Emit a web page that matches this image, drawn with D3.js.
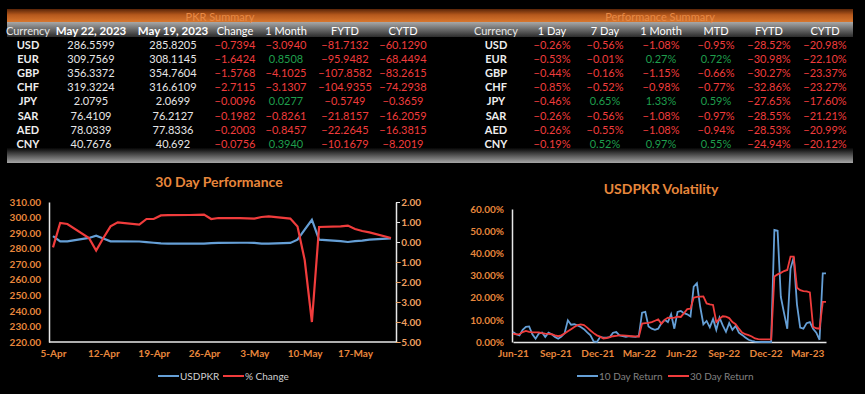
<!DOCTYPE html>
<html>
<head>
<meta charset="utf-8">
<script src="https://cdn.jsdelivr.net/npm/d3@7"></script>
<style>
  body { margin: 0; background: #000; }
  svg { display: block; font-family: Lato, "Open Sans", sans-serif; }
</style>
</head>
<body>
<div class="chart"></div>
<script>
// DATA ------------------------------------
const currencies = ["USD", "EUR", "GBP", "CHF", "JPY", "SAR", "AED", "CNY"];

// PKR summary
const pkrHeaders = ["Currency", "May 22, 2023", "May 19, 2023", "Change", "1 Month", "FYTD", "CYTD"];
const pkrToday = [286.5599, 309.7569, 356.3372, 319.3224, 2.0795, 76.4109, 78.0339, 40.7676];
const pkrPrev = [285.8205, 308.1145, 354.7604, 316.6109, 2.0699, 76.2127, 77.8336, 40.692];
const pkrChange = [-0.7394, -1.6424, -1.5768, -2.7115, -0.0096, -0.1982, -0.2003, -0.0756];
const pkrMonth = [-3.0940, 0.8508, -4.1025, -3.1307, 0.0277, -0.8261, -0.8457, 0.3940];
const pkrFytd = [-81.7132, -95.9482, -107.8582, -104.9355, -0.5749, -21.8157, -22.2645, -10.1679];
const pkrCytd = [-60.1290, -68.4494, -83.2615, -74.2938, -0.3659, -16.2059, -16.3815, -8.2019];

// performance summary (%)
const perfHeaders = ["Currency", "1 Day", "7 Day", "1 Month", "MTD", "FYTD", "CYTD"];
const perf1D = [-0.26, -0.53, -0.44, -0.85, -0.46, -0.26, -0.26, -0.19];
const perf7D = [-0.56, -0.01, -0.16, -0.52, 0.65, -0.56, -0.55, 0.52];
const perf1M = [-1.08, 0.27, -1.15, -0.98, 1.33, -1.08, -1.08, 0.97];
const perfMtd = [-0.95, 0.72, -0.66, -0.77, 0.59, -0.97, -0.94, 0.55];
const perfFytd = [-28.52, -30.98, -30.27, -32.86, -27.65, -28.55, -28.53, -24.94];
const perfCytd = [-20.98, -22.10, -23.37, -23.27, -17.60, -21.21, -20.99, -20.12];

// 30 day performance
const perfDates = ["2023-04-05", "2023-04-06", "2023-04-07", "2023-04-10", "2023-04-11", "2023-04-12",
  "2023-04-13", "2023-04-14", "2023-04-17", "2023-04-18", "2023-04-19", "2023-04-20", "2023-04-21",
  "2023-04-24", "2023-04-25", "2023-04-26", "2023-04-27", "2023-04-28", "2023-05-01", "2023-05-02",
  "2023-05-03", "2023-05-04", "2023-05-05", "2023-05-08", "2023-05-09", "2023-05-10", "2023-05-11",
  "2023-05-12", "2023-05-15", "2023-05-16", "2023-05-17", "2023-05-18", "2023-05-19", "2023-05-22"];
const usdpkr = [288.0, 284.7, 284.7, 286.9, 288.3, 286.5, 284.7, 284.7, 284.6, 284.2, 283.8, 283.4, 283.3,
  283.3, 283.3, 283.3, 283.6, 283.7, 283.8, 283.8, 283.7, 283.3, 283.3, 283.7, 285.8, 292.2, 298.6,
  285.8, 284.8, 284.3, 284.8, 285.2, 285.82, 286.56];
const pctChange = [-0.27, 0.95, 0.90, 0.20, -0.43, 0.20, 0.78, 0.98, 0.87, 1.15, 1.15, 1.33, 1.34,
  1.35, 1.36, 1.37, 1.15, 1.20, 1.19, 1.18, 1.17, 1.25, 1.28, 1.17, 0.78, -0.90, -4.00,
  0.75, 0.78, 0.82, 0.65, 0.55, 0.48, 0.20];
const perfTicks = ["2023-04-05", "2023-04-12", "2023-04-19", "2023-04-26", "2023-05-03", "2023-05-10", "2023-05-17"];

// USDPKR volatility, weekly from 1 Jun 2021 (%)
const volStart = "2021-06-01";
const vol10 = [4.5, 3.5, 3.0, 5.5, 6.8, 7.0, 3.5, 1.5, 3.8, 4.3, 2.3, 4.2, 3.5, 2.3, 1.5, 2.5, 4.0, 9.8, 7.8, 8.0,
  7.5, 6.8, 5.8, 4.3, 3.0, 0.3, 0.0, 2.3, 2.0, 2.0, 2.2, 4.2, 4.5, 3.0, 2.6, 2.3, 2.6, 2.4, 2.3, 2.8,
  13.2, 13.6, 7.0, 6.0, 5.5, 6.0, 8.5, 10.0, 9.0, 12.5, 6.0, 13.6, 14.0, 13.0, 12.5, 11.5, 25.0, 26.5, 16.0, 8.0,
  9.5, 6.6, 10.4, 5.5, 11.0, 7.5, 4.6, 8.5, 5.5, 7.3, 4.2, 3.2, 2.0, 1.0, 0.5, 0.2, 0.1, 0.0, 0.0, 0.0,
  0.0, 50.6, 50.2, 20.4, 13.0, 6.0, 33.0, 38.2, 17.0, 6.5, 6.0, 8.5, 9.0, 6.0, 4.2, 1.0, 31.0, 31.0];
const vol30 = [3.8, 3.4, 3.5, 4.5, 5.0, 4.6, 4.3, 4.3, 4.3, 4.0, 3.8, 3.7, 3.5, 3.0, 2.6, 3.0, 3.8, 4.8, 5.8, 6.8,
  7.6, 7.9, 7.6, 6.5, 5.2, 4.0, 3.0, 2.4, 1.6, 1.8, 2.2, 2.6, 2.8, 3.0, 3.0, 2.9, 2.7, 2.6, 2.5, 2.4,
  8.3, 8.5, 8.6, 9.0, 9.6, 10.2, 8.2, 10.0, 11.0, 10.8, 11.0, 11.4, 11.3, 13.0, 14.8, 15.0, 20.0, 20.4, 20.5, 20.6,
  17.4, 17.0, 16.7, 9.0, 10.5, 11.6, 11.4, 10.8, 9.0, 8.0, 6.0, 4.3, 3.5, 3.1, 2.5, 1.6, 1.3, 1.2, 1.2, 1.2,
  1.2, 29.5, 30.5, 31.2, 32.0, 32.5, 38.5, 38.5, 24.5, 23.4, 23.0, 22.8, 22.4, 6.8, 6.2, 6.0, 18.1, 18.1];
const volTicks = ["2021-06-01", "2021-09-01", "2021-12-01", "2022-03-01", "2022-06-01", "2022-09-01", "2022-12-01", "2023-03-01"];

// CHART INIT ------------------------------
const W = 865, H = 394;
const orange = "#e8873c", red = "#f03c3c", green = "#1f9e4c", blue = "#659fd6";
const parse = d3.timeParse("%Y-%m-%d");

const svg = d3.select(".chart")
  .append("svg")
  .attr("width", W)
  .attr("height", H);

svg.append("rect").attr("width", W).attr("height", H).attr("fill", "#000");

const defs = svg.append("defs");
function grad(id, stops) {
  const g = defs.append("linearGradient").attr("id", id)
    .attr("x1", 0).attr("x2", 0).attr("y1", 0).attr("y2", 1);
  stops.forEach(s => g.append("stop").attr("offset", s[0]).attr("stop-color", s[1]));
}
grad("gOrange", [[0, "#5a2508"], [0.45, "#b5581c"], [1, "#d8772f"]]);
grad("gHead", [[0, "#a8a8a8"], [1, "#2c2c2c"]]);
grad("gFoot", [[0, "#050505"], [1, "#a6a6a6"]]);

// TABLES ----------------------------------
svg.append("rect").attr("x", 7).attr("y", 9).attr("width", 846).attr("height", 13).attr("fill", "url(#gOrange)");
svg.append("rect").attr("x", 7).attr("y", 22).attr("width", 846).attr("height", 15).attr("fill", "url(#gHead)");
svg.append("rect").attr("x", 7).attr("y", 148).attr("width", 846).attr("height", 15).attr("fill", "url(#gFoot)");

svg.selectAll(".banner")
  .data([["PKR Summary", 220], ["Performance Summary", 660]])
  .join("text")
  .attr("class", "banner")
  .attr("x", d => d[1]).attr("y", 16)
  .attr("text-anchor", "middle").attr("dominant-baseline", "central")
  .attr("font-size", 11).attr("fill", "#e98a45")
  .text(d => d[0]);

const rowY = i => 44.5 + i * 14.1;
const posColor = v => v < 0 ? red : green;

function drawTable(headers, cols, xs, fmts) {
  const g = svg.append("g");
  g.selectAll(".hd")
    .data(headers)
    .join("text")
    .attr("x", (d, i) => xs[i]).attr("y", 30.5)
    .attr("text-anchor", "middle").attr("dominant-baseline", "central")
    .attr("font-size", d => /2023/.test(d) ? 11.5 : 11)
    .attr("font-weight", d => /2023/.test(d) ? "bold" : "normal")
    .attr("fill", (d, i) => i == 0 ? "#e6e6e6" : "#ffffff")
    .text(d => d);

  g.selectAll(".cur")
    .data(currencies)
    .join("text")
    .attr("x", xs[0]).attr("y", (d, i) => rowY(i))
    .attr("text-anchor", "middle").attr("dominant-baseline", "central")
    .attr("font-size", 11).attr("font-weight", "bold").attr("fill", "#eeeeee")
    .text(d => d);

  cols.forEach((col, c) => {
    g.selectAll(".c" + c)
      .data(col)
      .join("text")
      .attr("x", xs[c + 1]).attr("y", (d, i) => rowY(i))
      .attr("text-anchor", "middle").attr("dominant-baseline", "central")
      .attr("font-size", 11)
      .attr("fill", d => fmts[c].colored ? posColor(d) : "#e6e6e6")
      .text(d => fmts[c].f(d));
  });
}

const raw = { f: d => String(d), colored: false };
const f4 = { f: d3.format(".4f"), colored: true };
const pct = { f: d => d3.format(".2f")(d) + "%", colored: true };

drawTable(pkrHeaders, [pkrToday, pkrPrev, pkrChange, pkrMonth, pkrFytd, pkrCytd],
  [28, 91, 173, 235, 286, 345, 403], [raw, raw, f4, f4, f4, f4]);
drawTable(perfHeaders, [perf1D, perf7D, perf1M, perfMtd, perfFytd, perfCytd],
  [496, 552, 605, 661, 716, 769, 825], [pct, pct, pct, pct, pct, pct]);

// 30 DAY PERFORMANCE ----------------------
const perfData = perfDates.map((d, i) => ({ date: parse(d), usd: usdpkr[i], pct: pctChange[i] }));

const xP = d3.scaleTime().domain([parse("2023-04-05"), parse("2023-05-22")]).range([53, 391]);
const yL = d3.scaleLinear().domain([220, 310]).range([342, 202]);
const yR = d3.scaleLinear().domain([-5, 2]).range([342, 202]);

const left = svg.append("g");
left.append("text")
  .attr("x", 219).attr("y", 181)
  .attr("text-anchor", "middle").attr("dominant-baseline", "central")
  .attr("font-size", 14).attr("font-weight", "bold").attr("fill", orange)
  .text("30 Day Performance");

const axL = left.append("g").attr("transform", "translate(49,0)")
  .call(d3.axisLeft(yL).tickValues(d3.range(220, 311, 10)).tickFormat(d3.format(".2f")).tickSize(0).tickPadding(8));
const axR = left.append("g").attr("transform", "translate(396,0)")
  .call(d3.axisRight(yR).tickValues(d3.range(-5, 2.1, 1)).tickFormat(d3.format(".2f")).tickSize(4).tickSizeOuter(0).tickPadding(2));
axR.selectAll("text").attr("text-anchor", "end").attr("x", 25);
const axB = left.append("g").attr("transform", "translate(0,342)")
  .call(d3.axisBottom(xP).tickValues(perfTicks.map(parse)).tickFormat(d3.timeFormat("%-d-%b")).tickSize(0).tickPadding(8));
axB.select(".domain").attr("d", "M49,0H396");

[axL, axR, axB].forEach(a => {
  a.select(".domain").attr("stroke", "#e8e8e8").attr("stroke-width", 1.5);
  a.selectAll("line").attr("stroke", "#e8e8e8");
  a.selectAll("text").attr("fill", orange).attr("font-size", 10).attr("font-weight", "bold")
    .attr("font-family", "Lato, sans-serif");
});
axR.selectAll("text").attr("fill", "#f0a060");

left.append("path").datum(perfData)
  .attr("fill", "none").attr("stroke", blue).attr("stroke-width", 2.2)
  .attr("d", d3.line().x(d => xP(d.date)).y(d => yL(d.usd)));
left.append("path").datum(perfData)
  .attr("fill", "none").attr("stroke", red).attr("stroke-width", 2.2)
  .attr("d", d3.line().x(d => xP(d.date)).y(d => yR(d.pct)));

// VOLATILITY ------------------------------
const t0 = parse(volStart);
const volData = vol10.map((v, i) => ({ date: d3.timeDay.offset(t0, 7 * i), v10: v / 100, v30: vol30[i] / 100 }));

const xV = d3.scaleTime().domain([t0, volData[volData.length - 1].date]).range([513, 826]);
const yV = d3.scaleLinear().domain([0, 0.6]).range([342, 209]);

const right = svg.append("g");
right.append("text")
  .attr("x", 661).attr("y", 188)
  .attr("text-anchor", "middle").attr("dominant-baseline", "central")
  .attr("font-size", 14).attr("font-weight", "bold").attr("fill", orange)
  .text("USDPKR Volatility");

const axVL = right.append("g").attr("transform", "translate(512,0)")
  .call(d3.axisLeft(yV).tickValues(d3.range(0, 0.61, 0.1)).tickFormat(d3.format(".2%")).tickSize(0).tickPadding(8));
const axVB = right.append("g").attr("transform", "translate(0,342)")
  .call(d3.axisBottom(xV).tickValues(volTicks.map(parse)).tickFormat(d3.timeFormat("%b-%y")).tickSize(0).tickPadding(8));

[axVL, axVB].forEach(a => {
  a.select(".domain").attr("stroke", "#e8e8e8").attr("stroke-width", 1.5);
  a.selectAll("text").attr("fill", orange).attr("font-size", 10).attr("font-weight", "bold")
    .attr("font-family", "Lato, sans-serif");
});

right.append("path").datum(volData)
  .attr("fill", "none").attr("stroke", blue).attr("stroke-width", 1.8)
  .attr("d", d3.line().x(d => xV(d.date)).y(d => yV(d.v10)));
right.append("path").datum(volData)
  .attr("fill", "none").attr("stroke", red).attr("stroke-width", 1.8)
  .attr("d", d3.line().x(d => xV(d.date)).y(d => yV(d.v30)));

// LEGENDS ---------------------------------
function legend(items, color) {
  const g = svg.append("g");
  items.forEach(it => {
    g.append("line").attr("x1", it.x).attr("x2", it.x + 21).attr("y1", 376).attr("y2", 376)
      .attr("stroke", it.c).attr("stroke-width", 2);
    g.append("text").attr("x", it.x + 22).attr("y", 376)
      .attr("dominant-baseline", "central").attr("font-size", 10).attr("fill", color)
      .text(it.t);
  });
}
legend([{ x: 158, c: blue, t: "USDPKR" }, { x: 223, c: red, t: "% Change" }], "#d0d0d0");
legend([{ x: 577, c: blue, t: "10 Day Return" }, { x: 668, c: red, t: "30 Day Return" }], "#808080");
</script>
</body>
</html>
